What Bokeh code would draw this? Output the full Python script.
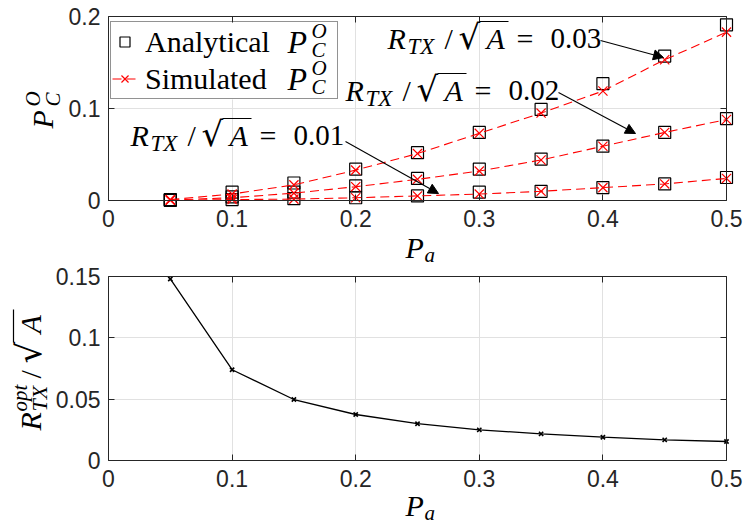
import math
from bokeh.plotting import figure
from bokeh.models import (ColumnDataSource, Label, Arrow, NormalHead, Legend, LegendItem,
                          FixedTicker, LinearAxis, Range1d, Grid, BoxAnnotation)
from bokeh.embed import file_html
from bokeh.resources import INLINE

# ---------------- data ----------------
pa = [0.05, 0.10, 0.15, 0.20, 0.25, 0.30, 0.35, 0.40, 0.45, 0.50]

ana_001 = [0.0002, 0.001, 0.002, 0.003, 0.005, 0.009, 0.010, 0.014, 0.018, 0.025]
sim_001 = [0.0002, 0.001, 0.0015, 0.003, 0.005, 0.007, 0.010, 0.014, 0.018, 0.024]
ana_002 = [0.0005, 0.004, 0.009, 0.016, 0.024, 0.034, 0.045, 0.059, 0.074, 0.089]
sim_002 = [0.0005, 0.003, 0.008, 0.015, 0.023, 0.032, 0.044, 0.059, 0.074, 0.088]
ana_003 = [0.001, 0.009, 0.019, 0.034, 0.052, 0.074, 0.099, 0.127, 0.157, 0.191]
sim_003 = [0.001, 0.007, 0.017, 0.033, 0.051, 0.073, 0.095, 0.119, 0.153, 0.183]

r_opt = [0.148, 0.074, 0.0497, 0.0375, 0.030, 0.025, 0.0217, 0.019, 0.0168, 0.0155]

x_ticks = [0, 0.1, 0.2, 0.3, 0.4, 0.5]
x_tick_labels = ["0", "0.1", "0.2", "0.3", "0.4", "0.5"]
y1_ticks = [0, 0.1, 0.2]
y1_tick_labels = ["0", "0.1", "0.2"]
y2_ticks = [0, 0.05, 0.1, 0.15]
y2_tick_labels = ["0", "0.05", "0.1", "0.15"]

annot_values = ["0.01", "0.02", "0.03"]

# ---------------- style / layout ----------------
SERIF = "Liberation Serif"
SANS = "Liberation Sans"
ROOT = "DejaVu Serif"
AX = "#262626"
GRID = "#e1e1e1"
RED = "#ff0000"

W, H = 746, 526
XL, XR = 108, 726                 # box left/right (px)
X_MAX = 0.5
XPPU = (XR - XL) / X_MAX
T1, B1, Y1_MAX = 16, 200, 0.2     # top panel box (px)
T2, B2, Y2_MAX = 276, 460, 0.15   # bottom panel box (px)
Y1PPU = (B1 - T1) / Y1_MAX
Y2PPU = (B2 - T2) / Y2_MAX


def fx(px):
    return (px - XL) / XPPU


def fy_top(py):
    return (B1 - py) / Y1PPU


def fy_bot(py):
    return (B2 - py) / Y2PPU


p = figure(width=W, height=H,
           x_range=Range1d(fx(0), fx(W)), y_range=Range1d(fy_top(H), fy_top(0)),
           x_axis_location=None, y_axis_location=None,
           output_backend="svg", toolbar_location=None,
           min_border=0, min_border_left=0, min_border_right=0,
           min_border_top=0, min_border_bottom=0)
p.extra_y_ranges = {"bot": Range1d(fy_bot(H), fy_bot(0))}
p.background_fill_color = "white"
p.border_fill_color = "white"
p.outline_line_color = None
p.xgrid.visible = False
p.ygrid.visible = False


def panel(rn, ymax, yticks, ylabels):
    for dim, tk, cb in ((0, x_ticks, (0, ymax)), (1, yticks, (0, X_MAX))):
        g = Grid(dimension=dim, ticker=FixedTicker(ticks=tk), grid_line_color=GRID,
                 grid_line_width=1, y_range_name=rn)
        g.cross_bounds = cb
        p.add_layout(g, "center")

    def axis(side, fixed, tk, labels, bounds, standoff):
        ax = LinearAxis(fixed_location=fixed, ticker=FixedTicker(ticks=tk), bounds=bounds,
                        y_range_name=rn,
                        axis_line_color=AX, axis_line_width=1,
                        major_tick_line_color=AX, major_tick_in=6, major_tick_out=0,
                        minor_tick_line_color=None,
                        major_label_text_font=SANS, major_label_text_font_size="23px",
                        major_label_text_color=AX, major_label_standoff=standoff)
        ax.major_label_overrides = ({t: l for t, l in zip(tk, labels)} if labels
                                    else {t: "" for t in tk})
        p.add_layout(ax, side)

    axis("below", 0, x_ticks, x_tick_labels, (0, X_MAX), 9)
    axis("left", 0, yticks, ylabels, (0, ymax), 8)
    axis("above", ymax, x_ticks, None, (0, X_MAX), 0)
    axis("right", X_MAX, yticks, None, (0, ymax), 0)


def math_text(fyf, rn, x0, y0, pieces, angle=0.0):
    """pieces: (text, dx, dy, size, italic[, font]); (x0, y0) = baseline start in px;
    dx along text, dy downward in the text frame (sub/superscript shift)."""
    for pc in pieces:
        text, dx, dy, size, ital = pc[:5]
        font = pc[5] if len(pc) > 5 else SERIF
        up = dy - 0.34 * size          # baseline -> middle of em box
        if angle == 0:
            px, py = x0 + dx, y0 + up
        else:
            px, py = x0 + up, y0 - dx
        p.add_layout(Label(x=fx(px), y=fyf(py), text=text, angle=angle, y_range_name=rn,
                           text_font=font, text_font_size=f"{size}px",
                           text_font_style="italic" if ital else "normal",
                           text_color="black", text_baseline="middle",
                           text_align="left", level="overlay"))


def rule(fyf, rn, a, b):
    p.add_layout(Arrow(x_start=fx(a[0]), y_start=fyf(a[1]), x_end=fx(b[0]), y_end=fyf(b[1]),
                       y_range_name=rn, start=None, end=None, line_color="black",
                       line_width=1.2, level="overlay"))


# ---------------- top panel ----------------
panel("default", Y1_MAX, y1_ticks, y1_tick_labels)
src = ColumnDataSource(dict(pa=pa, a1=ana_001, s1=sim_001, a2=ana_002, s2=sim_002,
                            a3=ana_003, s3=sim_003, r=r_opt))

LEG_L, LEG_T, LEG_R, LEG_B = 110, 22, 336, 99
p.add_layout(BoxAnnotation(left=fx(LEG_L), right=fx(LEG_R), top=fy_top(LEG_T),
                           bottom=fy_top(LEG_B), fill_color="white", fill_alpha=1.0,
                           line_color=None, level="underlay"))

sq = []
for col in ("a1", "a2", "a3"):
    sq.append(p.scatter("pa", col, source=src, marker="square", size=12, fill_color=None,
                        line_color="black", line_width=1.2))
ln, xs = [], []
for col in ("s1", "s2", "s3"):
    ln.append(p.line("pa", col, source=src, line_color=RED, line_width=1.1, line_dash="9 5"))
    xs.append(p.scatter("pa", col, source=src, marker="x", size=13, line_color=RED,
                        line_width=1.2))

leg = Legend(items=[LegendItem(label="Analytical", renderers=[sq[2]]),
                    LegendItem(label="Simulated", renderers=[ln[2], xs[2]])],
             location=(LEG_L, H - LEG_B), padding=1, spacing=0,
             glyph_width=25, glyph_height=37, label_height=37, label_standoff=8,
             label_width=LEG_R - LEG_L - 2 - 25 - 8, label_text_font=SERIF,
             label_text_font_size="30px", label_text_color="black",
             border_line_color=AX, border_line_width=1,
             background_fill_alpha=0.0)
p.add_layout(leg)

for mid in (41.5, 78.5):
    math_text(fy_top, "default", 287, mid + 0.34 * 32, [("P", 0, 0, 32, True),
                                                        ("C", 24, 4, 21, True),
                                                        ("O", 24, -15, 21, True)])

ann_pos = [(130, 145), (345, 100), (387, 48)]
ann_arrows = [((345, 141), (438, 193)), ((558, 92), (635, 133)), ((600, 40), (663, 57))]
for val, (x0, b), (a, e) in zip(annot_values, ann_pos, ann_arrows):
    math_text(fy_top, "default", x0, b, [("R", 0, 0, 30, True),
                                         ("TX", 20, 6, 23, True),
                                         ("/", 57, 0, 30, False),
                                         ("\u221a", 71, 0, 34, False, ROOT),
                                         ("A", 99, 0, 30, True),
                                         ("=", 129, 0, 30, False),
                                         (val, 163, 0, 29, False)])
    rule(fy_top, "default", (x0 + 92, b - 27), (x0 + 121, b - 27))
    p.add_layout(Arrow(x_start=fx(a[0]), y_start=fy_top(a[1]), x_end=fx(e[0]), y_end=fy_top(e[1]),
                       line_color="black", line_width=1.1, level="overlay",
                       end=NormalHead(size=10, fill_color="black", line_color="black")))

math_text(fy_top, "default", 405, 257, [("P", 0, 0, 30, True), ("a", 19, 5, 21, True)])
math_text(fy_top, "default", 52, 128, [("P", 0, 0, 30, True),
                                       ("C", 22, 8, 21, True),
                                       ("O", 22, -12, 21, True)], angle=math.pi / 2)

# ---------------- bottom panel ----------------
panel("bot", Y2_MAX, y2_ticks, y2_tick_labels)
p.line("pa", "r", source=src, line_color="black", line_width=1.3, y_range_name="bot")
p.scatter("pa", "r", source=src, marker="x", size=6, line_color="black", line_width=1.6,
          y_range_name="bot")

math_text(fy_bot, "bot", 405, 515, [("P", 0, 0, 30, True), ("a", 19, 5, 21, True)])
math_text(fy_bot, "bot", 40, 430, [("R", 0, 0, 30, True),
                                   ("TX", 19, 6, 22, True),
                                   ("opt", 19, -13, 21, True),
                                   ("/", 52, 0, 30, False),
                                   ("\u221a", 67, 0, 34, False, ROOT),
                                   ("A", 97, 0, 30, True)], angle=math.pi / 2)
rule(fy_bot, "bot", (13, 342), (13, 309))

open("out.html", "w").write(file_html(p, INLINE))
